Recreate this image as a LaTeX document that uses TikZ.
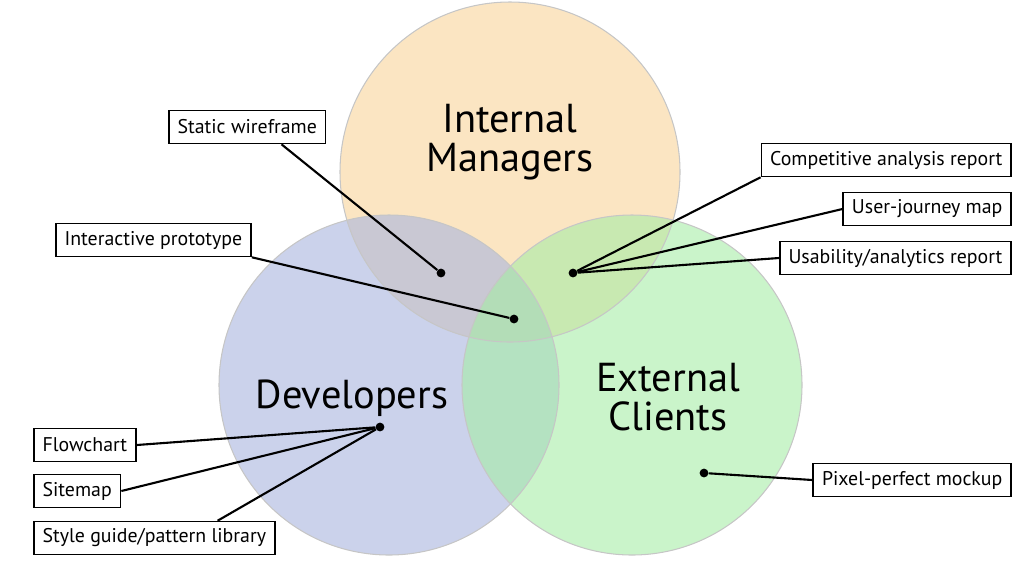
\documentclass[tikz,border=0pt]{standalone}
\usepackage{fontspec}
\setmainfont{PT Sans}
\begin{document}
\begin{tikzpicture}[x=0.02cm,y=-0.02cm,
  venn/.style={fill opacity=0.6},
  lbl/.style={draw,line width=0.9pt,fill=white,anchor=west,font=\fontsize{11.3}{13}\selectfont,minimum height=0.66cm,inner xsep=5pt},
  lblr/.style={lbl,anchor=east},
  big/.style={font=\fontsize{23}{26}\selectfont,align=center},
  dot/.style={circle,fill=black,inner sep=0pt,minimum size=5pt},
  con/.style={line width=1.2pt}]
\useasboundingbox (0,0) rectangle (1024,576);
\definecolor{cor}{HTML}{F9D49A}
\definecolor{cbl}{HTML}{A8B4DE}
\definecolor{cgr}{HTML}{A6EDA6}
\fill[cor,venn] (510,172) circle (170);
\fill[cbl,venn] (389,385) circle (170);
\fill[cgr,venn] (632,385) circle (170);
\draw[gray!45,line width=0.6pt] (510,172) circle (170) (389,385) circle (170) (632,385) circle (170);
\node[big] (im) at (510,142) {Internal\\[-4pt]Managers};
\node[big] (dev) at (352,398) {Developers};
\node[big] (ec) at (668,397) {External\\[-4pt]Clients};
\node[dot] (d1) at (441,273) {};
\node[dot] (d2) at (514,319) {};
\node[dot] (d3) at (573,273) {};
\node[dot] (d4) at (380,427) {};
\node[dot] (d5) at (704,473) {};
\node[lbl] (sw) at (168,127) {Static wireframe};
\node[lbl] (ip) at (55,240) {Interactive prototype};
\node[lblr] (ca) at (1012,160) {Competitive analysis report};
\node[lblr] (uj) at (1012,209) {User-journey map};
\node[lblr] (ua) at (1012,258) {Usability/analytics report};
\node[lbl] (fc) at (33,445) {Flowchart};
\node[lbl] (sm) at (33,491) {Sitemap};
\node[lbl] (sg) at (33,538) {Style guide/pattern library};
\node[lblr] (pp) at (1012,480) {Pixel-perfect mockup};
\draw[con] (sw.south east)++(-45,0) -- (d1);
\draw[con] (ip.south east) -- (d2);
\draw[con] (ca.south west) -- (d3);
\draw[con] (uj.west) -- (d3);
\draw[con] (ua.west) -- (d3);
\draw[con] (fc.east) -- (d4);
\draw[con] (sm.east) -- (d4);
\draw[con] (sg.north east)++(-58,0) -- (d4);
\draw[con] (pp.west) -- (d5);
\end{tikzpicture}
\end{document}
